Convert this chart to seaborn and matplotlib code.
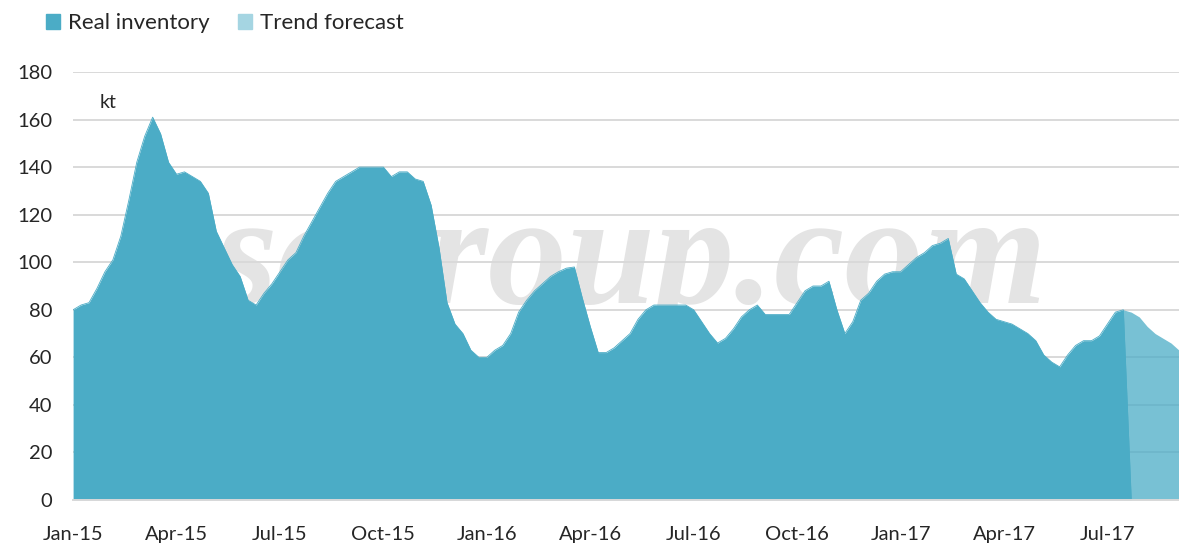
import pandas as pd
import matplotlib
matplotlib.use("Agg")
import matplotlib.pyplot as plt
import seaborn as sns
from matplotlib.patches import Patch

# weekly inventory, kt
real_inventory = [
    80, 82, 83, 89, 96, 101, 111, 126, 142, 153,
    161, 154, 142, 137, 138, 136, 134, 129, 113, 106,
    99, 94, 84, 82, 87, 91, 96, 101, 104, 111,
    117, 123, 129, 134, 136, 138, 140, 140, 140, 140,
    136, 138, 138, 135, 134, 124, 106, 83, 74, 70,
    63, 60, 60, 63, 65, 70, 79, 84, 88, 91,
    94, 96, 97.5, 98, 85, 73, 62, 62, 64, 67,
    70, 76, 80, 82, 82, 82, 82, 82, 80, 75,
    70, 66, 68, 72, 77, 80, 82, 78, 78, 78,
    78, 83, 88, 90, 90, 92, 80, 70, 75, 84,
    87, 92, 95, 96, 96, 99, 102, 104, 107, 108,
    110, 95, 93, 88, 83, 79, 76, 75, 74, 72,
    70, 67, 61, 58, 56, 61, 65, 67, 67, 69,
    74, 79, 80,
]
trend_forecast = [80, 79, 77, 73, 70, 68, 66, 63]

start_week = "2015-01-05"
n_weeks = len(real_inventory) + len(trend_forecast) - 1
weeks = pd.date_range(start_week, periods=n_weeks, freq="7D")

# excel draws the blank weeks of the real series as zero
real_full = real_inventory + [0] * (len(trend_forecast) - 1)
fc_start = len(real_inventory) - 1

df = pd.DataFrame({"week": range(n_weeks), "real": real_full})
df_fc = pd.DataFrame({"week": range(fc_start, n_weeks), "fc": trend_forecast})

c_real = "#4BACC6"
c_fc = "#4BACC6"
txt = "#262626"

sns.set_theme(style="white")
plt.rcParams["font.family"] = ["Lato", "DejaVu Sans"]

fig = plt.figure(figsize=(11.79, 5.47), dpi=100)
ax = fig.add_axes([0.062, 0.0859, 0.938, 0.7825])

# watermark sits under the data
ax.text(0.881, 0.46, "scgroup.com", transform=ax.transAxes, ha="right", va="baseline",
        fontsize=114, family="Liberation Serif", style="italic", fontweight="bold",
        color="#E4E4E4", zorder=0)

ax.fill_between(df_fc["week"], df_fc["fc"], color=c_fc, alpha=0.75, lw=0, zorder=2)
ax.fill_between(df["week"], df["real"], color=c_real, lw=0, zorder=3)
sns.lineplot(data=df, x="week", y="real", ax=ax, color=c_real, lw=0.6, zorder=3)

ax.set_xlim(0, n_weeks - 1)
ax.set_ylim(0, 180)
ax.set_yticks(range(0, 181, 20))
tick_idx = list(range(0, n_weeks, 13))
ax.set_xticks(tick_idx)
ax.set_xticklabels([weeks[i].strftime("%b-%y") for i in tick_idx])
ax.set_xlabel("")
ax.set_ylabel("")

ax.grid(axis="y", color="#D9D9D9", lw=1.4)
ax.set_axisbelow(True)
for s in ["top", "right", "left"]:
    ax.spines[s].set_visible(False)
ax.spines["bottom"].set_color("#D9D9D9")
ax.spines["bottom"].set_linewidth(1.4)
ax.spines["bottom"].set_zorder(4)
ax.tick_params(axis="y", length=0, pad=15, labelsize=14.5, labelcolor=txt)
ax.tick_params(axis="x", length=0, pad=19, labelsize=14.5, labelcolor=txt)

ax.text(0.024, 0.915, "kt", transform=ax.transAxes, fontsize=14, color=txt)

handles = [Patch(color=c_real, label="Real inventory"),
           Patch(color="#A5D5E2", label="Trend forecast")]
fig.legend(handles=handles, loc="upper left", bbox_to_anchor=(0.022, 1.012), ncol=2,
           frameon=False, fontsize=16, handlelength=0.65, handleheight=0.65,
           handletextpad=0.35, columnspacing=1.25, labelcolor=txt)

fig.savefig("out.png", dpi=100)
